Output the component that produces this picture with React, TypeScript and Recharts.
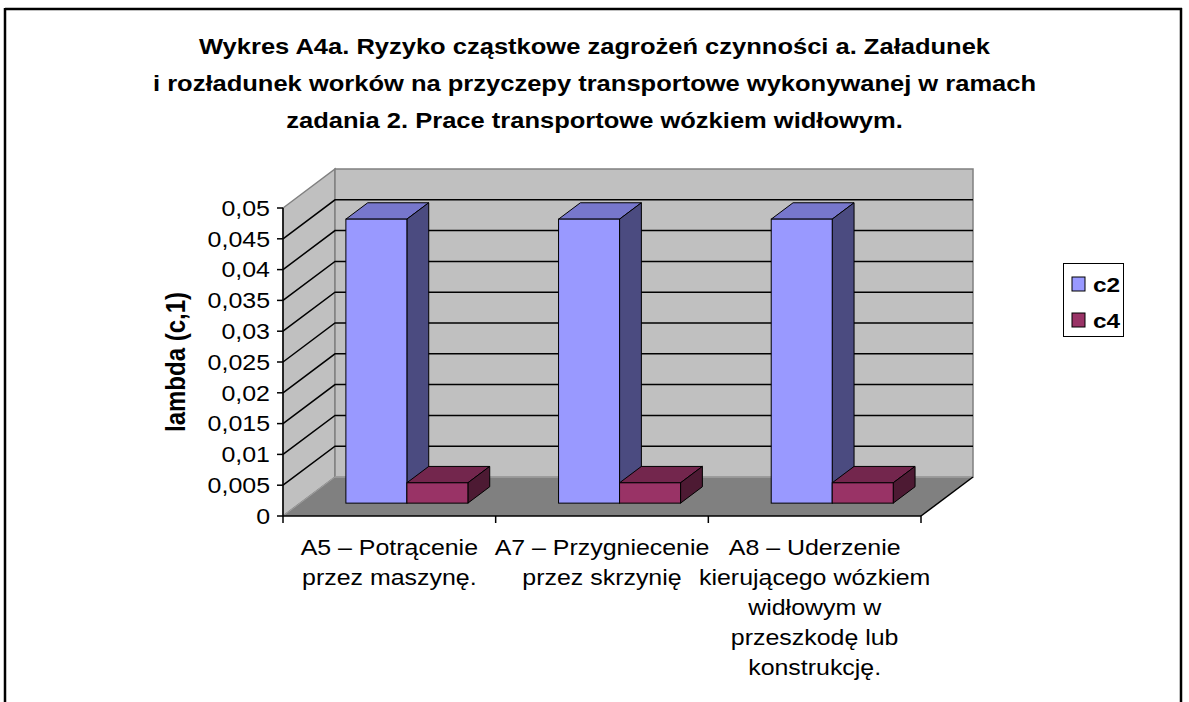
import React from 'react';
import { BarChart, Bar, XAxis, YAxis, ReferenceArea, ReferenceLine, Legend } from 'recharts';

// ---------- data ----------
const CATEGORIES = [
  'A5 – Potrącenie\nprzez maszynę.',
  'A7 – Przygniecenie\nprzez skrzynię',
  'A8 – Uderzenie\nkierującego wózkiem\nwidłowym w\nprzeszkodę lub\nkonstrukcję.',
];
const C2_VALUES = [0.0461, 0.0461, 0.0461];
const C4_VALUES = [0.0033, 0.0033, 0.0033];
const Y_TICKS = [0, 0.005, 0.01, 0.015, 0.02, 0.025, 0.03, 0.035, 0.04, 0.045, 0.05];
const TITLE_LINES = [
  'Wykres A4a. Ryzyko cząstkowe zagrożeń czynności a. Załadunek',
  'i rozładunek worków na przyczepy transportowe wykonywanej w ramach',
  'zadania 2. Prace transportowe wózkiem widłowym.',
];
const Y_LABEL = 'lambda (c,1)';
const SERIES = [
  { key: 'c2', name: 'c2', front: '#9999FF', top: '#7777CC', side: '#4B4B80' },
  { key: 'c4', name: 'c4', front: '#993366', top: '#73264D', side: '#4D1A33' },
];

const data = CATEGORIES.map((name, i) => ({ name, c2: C2_VALUES[i], c4: C4_VALUES[i] }));

// ---------- layout / style ----------
const CHART_W = 1189;
const CHART_H = 702;
const MARGIN = { top: 208, right: 268, bottom: 46, left: 183 };
const YAXIS_W = 100;
const XAXIS_H = 140;
const PLOT_W = CHART_W - MARGIN.left - YAXIS_W - MARGIN.right;
const DEPTH_X = 52;
const DEPTH_Y = 39;
const BAR_D0 = 0.33;
const BAR_D1 = 0.75;
const SX = 1.16;
const FONT = '"Liberation Sans", Arial, Helvetica, sans-serif';
const WALL = '#C0C0C0';
const FLOOR = '#808080';
const EDGE = '#808080';

const pts = (arr: number[][]) => arr.map((p) => p.join(',')).join(' ');

const make3DBar = (s: typeof SERIES[number]) => (props: any) => {
  const { x, y, width, height } = props;
  if (x == null || y == null) return <g />;
  const fx = x + DEPTH_X * BAR_D0;
  const fy = y - DEPTH_Y * BAR_D0;
  const ddx = DEPTH_X * (BAR_D1 - BAR_D0);
  const ddy = DEPTH_Y * (BAR_D1 - BAR_D0);
  const w = width;
  const h = height;
  return (
    <g>
      <polygon
        points={pts([[fx, fy], [fx + w, fy], [fx + w + ddx, fy - ddy], [fx + ddx, fy - ddy]])}
        fill={s.top}
        stroke="#000"
        strokeWidth={1}
        strokeLinejoin="round"
      />
      <polygon
        points={pts([[fx + w, fy], [fx + w + ddx, fy - ddy], [fx + w + ddx, fy + h - ddy], [fx + w, fy + h]])}
        fill={s.side}
        stroke="#000"
        strokeWidth={1}
        strokeLinejoin="round"
      />
      <rect x={fx} y={fy} width={w} height={h} fill={s.front} stroke="#000" strokeWidth={1} />
    </g>
  );
};

const WallsShape = (props: any) => {
  const { x, y, width: w, height: h } = props;
  if (x == null) return <g />;
  const b = y + h;
  return (
    <g>
      <polygon points={pts([[x, b], [x, y], [x + DEPTH_X, y - DEPTH_Y], [x + DEPTH_X, b - DEPTH_Y]])} fill={WALL} stroke={EDGE} strokeWidth={1.5} />
      <rect x={x + DEPTH_X} y={y - DEPTH_Y} width={w} height={h} fill={WALL} stroke={EDGE} strokeWidth={1.5} />
      <polygon points={pts([[x, b], [x + w, b], [x + w + DEPTH_X, b - DEPTH_Y], [x + DEPTH_X, b - DEPTH_Y]])} fill={FLOOR} stroke="none" />
      <line x1={x} y1={b} x2={x + DEPTH_X} y2={b - DEPTH_Y} stroke="#A0A0A0" strokeWidth={1} />
      <line x1={x + DEPTH_X} y1={b - DEPTH_Y} x2={x + w + DEPTH_X} y2={b - DEPTH_Y} stroke="#A0A0A0" strokeWidth={1.5} />
      <line x1={x + w} y1={b} x2={x + w + DEPTH_X} y2={b - DEPTH_Y} stroke="#000" strokeWidth={1.5} />
    </g>
  );
};

const GridShape = (props: any) => {
  const { x1, y1, x2 } = props;
  if (x1 == null) return <g />;
  return (
    <polyline
      points={pts([[x1, y1], [x1 + DEPTH_X, y1 - DEPTH_Y], [x2 + DEPTH_X, y1 - DEPTH_Y]])}
      fill="none"
      stroke="#000"
      strokeWidth={1.5}
    />
  );
};

const YTick = (props: any) => {
  const { x, y, payload } = props;
  return (
    <text
      transform={`translate(${x},${y}) scale(${SX},1)`}
      x={0}
      y={7.7}
      textAnchor="end"
      fontFamily={FONT}
      fontSize={21.5}
      fill="#000"
    >
      {String(payload.value).replace('.', ',')}
    </text>
  );
};

const XTick = (props: any) => {
  const { x, y, payload, index } = props;
  const lines = String(payload.value).split('\n');
  const half = PLOT_W / CATEGORIES.length / 2;
  return (
    <g>
      <line x1={x - half} y1={y} x2={x - half} y2={y + 7} stroke="#000" strokeWidth={1.5} />
      {index === CATEGORIES.length - 1 && (
        <line x1={x + half} y1={y} x2={x + half} y2={y + 7} stroke="#000" strokeWidth={1.5} />
      )}
      <text transform={`translate(${x},${y}) scale(${SX},1)`} textAnchor="middle" fontFamily={FONT} fontSize={21.5} fill="#000">
        {lines.map((l, i) => (
          <tspan key={i} x={0} y={39 + 30 * i}>
            {l}
          </tspan>
        ))}
      </text>
    </g>
  );
};

const YLabel = (props: any) => {
  const vb = props.viewBox || {};
  const cx = (vb.x ?? 0) - 8;
  const cy = (vb.y ?? 0) + (vb.height ?? 0) / 2;
  return (
    <text
      transform={`translate(${cx},${cy}) scale(${SX},1) rotate(-90)`}
      x={0}
      y={0}
      dy="0.36em"
      textAnchor="middle"
      fontFamily={FONT}
      fontWeight="bold"
      fontSize={24}
      fill="#000"
    >
      {Y_LABEL}
    </text>
  );
};

const LegendContent = (props: any) => {
  const payload = props.payload || [];
  return (
    <svg width={61} height={74} style={{ display: 'block' }}>
      <rect x={0.5} y={0.5} width={60} height={73} fill="#fff" stroke="#000" strokeWidth={1} />
      {payload.map((p: any, i: number) => (
        <g key={i}>
          <rect x={9} y={14 + 36 * i} width={13} height={14} fill={p.color} stroke="#000" strokeWidth={1} />
          <text
            transform={`translate(30,${28.5 + 36 * i}) scale(${SX},1)`}
            fontFamily={FONT}
            fontWeight="bold"
            fontSize={21}
            fill="#000"
          >
            {p.value}
          </text>
        </g>
      ))}
    </svg>
  );
};

export default function App() {
  return (
    <div style={{ position: 'absolute', left: 0, top: 0, width: CHART_W, height: CHART_H, overflow: 'hidden', background: '#fff' }}>
      <BarChart
        width={CHART_W}
        height={CHART_H}
        data={data}
        margin={MARGIN}
        barCategoryGap="21.5%"
        barGap={0}
      >
        <ReferenceArea y1={0} y2={0.05} shape={WallsShape} ifOverflow="visible" zIndex={-90} />
        {Y_TICKS.filter((v) => v > 0 && v < 0.05).map((v) => (
          <ReferenceLine key={v} y={v} shape={GridShape} ifOverflow="visible" zIndex={-80} />
        ))}
        <XAxis
          dataKey="name"
          type="category"
          height={XAXIS_H}
          interval={0}
          tickLine={false}
          tickSize={0}
          tickMargin={0}
          axisLine={{ stroke: '#000', strokeWidth: 1.5 }}
          tick={XTick}
        />
        <YAxis
          type="number"
          width={YAXIS_W}
          domain={[0, 0.05]}
          ticks={Y_TICKS}
          interval={0}
          tickSize={6}
          tickMargin={7}
          axisLine={{ stroke: '#000', strokeWidth: 1.5 }}
          tickLine={{ stroke: '#000', strokeWidth: 1.5 }}
          tick={YTick}
          label={{ content: YLabel }}
        />
        {SERIES.map((s) => (
          <Bar key={s.key} dataKey={s.key} name={s.name} fill={s.front} shape={make3DBar(s)} isAnimationActive={false} />
        ))}
        <Legend
          layout="vertical"
          align="center"
          verticalAlign="middle"
          wrapperStyle={{ left: 1063, top: 263, width: 61, height: 74 }}
          content={LegendContent}
        />
      </BarChart>
      <svg width={CHART_W} height={CHART_H} style={{ position: 'absolute', left: 0, top: 0, pointerEvents: 'none' }}>
        <line x1={5} y1={9} x2={1182} y2={9} stroke="#000" strokeWidth={2.5} />
        <line x1={5} y1={8} x2={5} y2={CHART_H} stroke="#000" strokeWidth={2.5} />
        <line x1={1181} y1={8} x2={1181} y2={CHART_H} stroke="#000" strokeWidth={2.5} />
        {TITLE_LINES.map((t, i) => (
          <text
            key={i}
            transform={`translate(${CHART_W / 2},${54 + 37 * i}) scale(${SX},1)`}
            textAnchor="middle"
            fontFamily={FONT}
            fontWeight="bold"
            fontSize={22}
            fill="#000"
          >
            {t}
          </text>
        ))}
      </svg>
    </div>
  );
}
